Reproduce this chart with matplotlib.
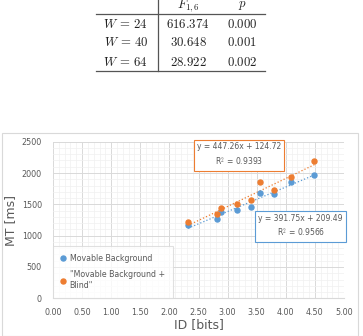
import numpy as np
import matplotlib.pyplot as plt
from matplotlib.lines import Line2D
from matplotlib.patches import Rectangle
from matplotlib.ticker import MultipleLocator

plt.rcParams['mathtext.fontset'] = 'cm'

# Table data
row_labels = ["$W\\,=\\,24$", "$W\\,=\\,40$", "$W\\,=\\,64$"]
f_values = ["616.374", "30.648", "28.922"]
p_values = ["0.000", "0.001", "0.002"]

# Chart data
id_bits = [2.32, 2.81, 2.89, 3.17, 3.41, 3.55, 3.79, 4.09, 4.49]
mt_movable = [1170, 1262, 1373, 1410, 1463, 1687, 1666, 1858, 1975]
mt_blind = [1219, 1342, 1448, 1512, 1570, 1863, 1730, 1933, 2188]
fit_movable = (391.75, 209.49, 0.9566)
fit_blind = (447.26, 124.72, 0.9393)

blue = "#5B9BD5"
orange = "#ED7D31"
W, H = 363, 336

fig = plt.figure(figsize=(W / 100, H / 100), dpi=100)

def fx(px):
    return px / W

def fy(py):
    return 1 - py / H

# ---- table ----
tc = "#222222"
fs = 9.2
fig.text(fx(188), fy(6), "$F_{1,6}$", ha="center", va="center", fontsize=fs, color=tc)
fig.text(fx(242), fy(6), "$p$", ha="center", va="center", fontsize=fs, color=tc)
for i, (lab, f, p) in enumerate(zip(row_labels, f_values, p_values)):
    yy = fy(24 + i * 19)
    fig.text(fx(148), yy, lab, ha="right", va="center", fontsize=fs, color=tc)
    fig.text(fx(188), yy, "$" + f + "$", ha="center", va="center", fontsize=fs, color=tc)
    fig.text(fx(242), yy, "$" + p + "$", ha="center", va="center", fontsize=fs, color=tc)
fig.add_artist(Line2D([fx(96), fx(265)], [fy(13.7), fy(13.7)], color="#555555", lw=0.9))
fig.add_artist(Line2D([fx(96), fx(265)], [fy(71.3), fy(71.3)], color="#555555", lw=0.9))
fig.add_artist(Line2D([fx(157.7), fx(157.7)], [fy(0), fy(71.3)], color="#555555", lw=0.9))

# ---- chart frame ----
fig.add_artist(Rectangle((fx(2), fy(336)), fx(356) - fx(0), fy(133) - fy(336),
                         fill=False, edgecolor="#d9d9d9", lw=0.8))

ax = fig.add_axes([fx(53), fy(298.3), fx(344) - fx(53), fy(141.7) - fy(298.3)])
ax.set_xlim(0, 5)
ax.set_ylim(0, 2500)
ax.xaxis.set_major_locator(MultipleLocator(0.5))
ax.xaxis.set_minor_locator(MultipleLocator(0.1))
ax.yaxis.set_major_locator(MultipleLocator(500))
ax.yaxis.set_minor_locator(MultipleLocator(100))
ax.grid(which="major", color="#d9d9d9", lw=0.7)
ax.grid(which="minor", color="#f0f0f0", lw=0.5)
ax.set_axisbelow(True)
for s in ax.spines.values():
    s.set_visible(False)
ax.spines["bottom"].set_visible(True)
ax.spines["bottom"].set_color("#d9d9d9")
ax.tick_params(which="both", length=0, labelsize=5.8, labelcolor="#595959")
ax.tick_params(axis="x", pad=7)
ax.tick_params(axis="y", pad=8)
ax.set_xticks(np.arange(0, 5.01, 0.5))
ax.set_xticklabels([f"{v:.2f}" for v in np.arange(0, 5.01, 0.5)])

ax.plot(id_bits, mt_movable, "o", color=blue, ms=3.6, label="Movable Background", zorder=3)
ax.plot(id_bits, mt_blind, "o", color=orange, ms=3.6, label="\"Movable Background +\nBlind\"", zorder=3)

xs = np.array([min(id_bits), max(id_bits)])
ax.plot(xs, fit_movable[0] * xs + fit_movable[1], ":", color=blue, lw=0.9, zorder=2)
ax.plot(xs, fit_blind[0] * xs + fit_blind[1], ":", color=orange, lw=0.9, zorder=2)

ax.text(3.2, 2289, f"y = {fit_blind[0]}x + {fit_blind[1]}\nR$^2$ = {fit_blind[2]}",
        ha="center", va="center", fontsize=5.5, color="#595959", linespacing=1.35,
        bbox=dict(boxstyle="square,pad=0.4", fc="white", ec=orange, lw=0.8), zorder=4)
ax.text(4.256, 1150, f"y = {fit_movable[0]}x + {fit_movable[1]}\nR$^2$ = {fit_movable[2]}",
        ha="center", va="center", fontsize=5.5, color="#595959", linespacing=1.35,
        bbox=dict(boxstyle="square,pad=0.4", fc="white", ec=blue, lw=0.8), zorder=4)

leg = ax.legend(loc="lower left", bbox_to_anchor=(0, 0.005), fontsize=5.7, frameon=True,
                fancybox=False, edgecolor="#d9d9d9", handlelength=0.6, handletextpad=0.5,
                borderpad=1.0, labelspacing=0.9, borderaxespad=0)
for t in leg.get_texts():
    t.set_color("#595959")
leg.get_frame().set_linewidth(0.8)

ax.set_ylabel("MT [ms]", fontsize=9, color="#595959", labelpad=3)
ax.set_xlabel("ID [bits]", fontsize=9, color="#595959", labelpad=1)

fig.savefig("out.png", dpi=100)
